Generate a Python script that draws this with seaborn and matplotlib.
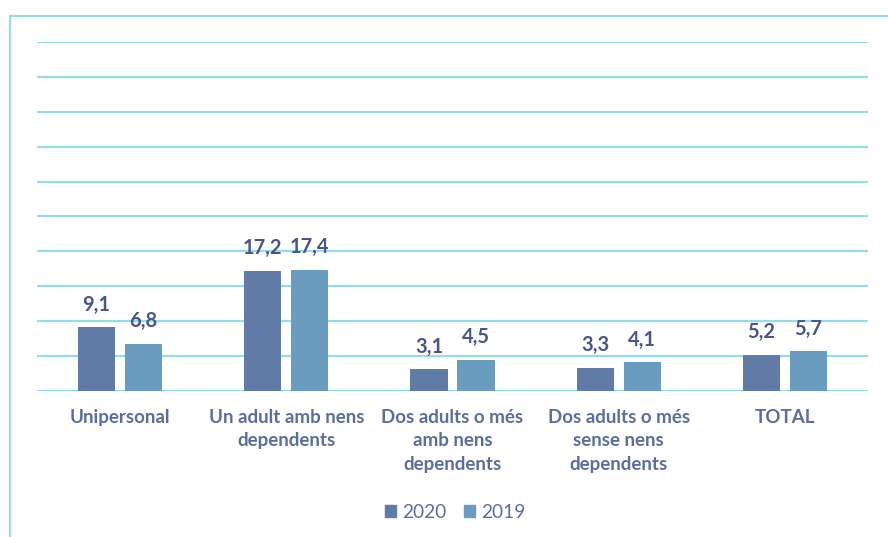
import matplotlib
matplotlib.use("Agg")
import matplotlib.pyplot as plt
import matplotlib.patches as mpatches
import seaborn as sns
import pandas as pd

# ==============================================================================
# DATA
# ==============================================================================
categories = [
    "Unipersonal",
    "Un adult amb nens\ndependents",
    "Dos adults o més\namb nens\ndependents",
    "Dos adults o més\nsense nens\ndependents",
    "TOTAL",
]
values_2020 = [9.1, 17.2, 3.1, 3.3, 5.2]
values_2019 = [6.8, 17.4, 4.5, 4.1, 5.7]
series = ["2020", "2019"]

colors = {"2020": "#5F7BA6", "2019": "#6A9CBF"}
text_color = "#4A5588"
tick_color = "#5A6E9E"
grid_color = "#92DDE8"

df = pd.DataFrame({
    "cat": categories * 2,
    "value": values_2020 + values_2019,
    "year": ["2020"] * len(categories) + ["2019"] * len(categories),
})

# ==============================================================================
# PLOT
# ==============================================================================
sns.set_theme(style="white")
plt.rcParams["font.family"] = ["Lato", "DejaVu Sans"]

fig = plt.figure(figsize=(8.88, 5.37), dpi=100)
ax = fig.add_axes([0.0417, 0.2719, 0.9358, 0.6499])

sns.barplot(data=df, x="cat", y="value", hue="year", hue_order=series,
            palette=colors, width=0.566, gap=0.21, ax=ax, legend=False,
            saturation=1, edgecolor="none")

ax.set_ylim(0, 50)
ax.set_xlim(-0.5, len(categories) - 0.5)
ax.set_yticks(range(0, 51, 5))
ax.yaxis.grid(True, color=grid_color, linewidth=1.6)
ax.set_axisbelow(True)
ax.tick_params(axis="y", left=False, labelleft=False)
ax.tick_params(axis="x", bottom=False, pad=7)
for lab in ax.get_xticklabels():
    lab.set_fontsize(13.5)
    lab.set_fontweight("bold")
    lab.set_color(tick_color)
    lab.set_linespacing(1.45)
    lab.set_verticalalignment("top")
for s in ax.spines.values():
    s.set_visible(False)
ax.set_xlabel("")
ax.set_ylabel("")

# value labels
for container in ax.containers:
    labels = [f"{v:.1f}".replace(".", ",") for v in container.datavalues]
    ax.bar_label(container, labels=labels, padding=9, fontsize=14.5,
                 fontweight="bold", color=text_color)

# legend
handles = [mpatches.Patch(color=colors[s], label=s) for s in series]
fig.legend(handles=handles, loc="center", bbox_to_anchor=(0.513, 0.046), ncol=2,
           frameon=False, fontsize=13.8, handlelength=0.55, handleheight=0.55,
           handletextpad=0.35, columnspacing=0.9, labelcolor=tick_color)

# outer border
border = mpatches.Rectangle((10 / 888, -0.05), 1.0, 1 - 16 / 537 + 0.05,
                            transform=fig.transFigure, fill=False,
                            edgecolor=grid_color, linewidth=1.6)
fig.patches.append(border)

fig.savefig("out.png", dpi=100)
